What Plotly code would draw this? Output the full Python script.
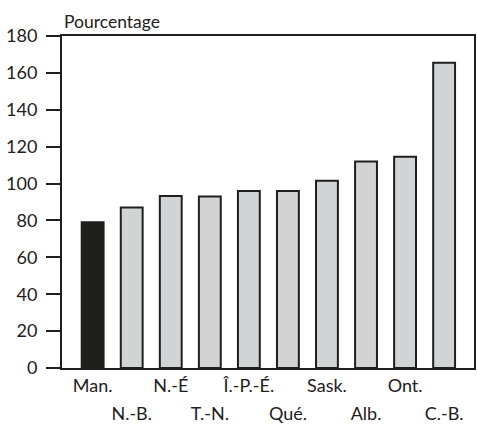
import plotly.graph_objects as go

provinces = ["Man.", "N.-B.", "N.-É", "T.-N.", "Î.-P.-É.", "Qué.", "Sask.", "Alb.", "Ont.", "C.-B."]
values = [79, 87, 93.3, 93, 96, 96, 101.5, 112, 114.5, 165.5]
y_ticks = [0, 20, 40, 60, 80, 100, 120, 140, 160, 180]

colors = ["#1f201c" if p == "Man." else "#d1d3d4" for p in provinces]
positions = list(range(len(provinces)))

fig = go.Figure()
fig.add_trace(
    go.Bar(
        x=positions,
        y=values,
        width=0.56,
        marker=dict(color=colors, line=dict(color="#1f201c", width=2)),
        hoverinfo="skip",
    )
)

# labels alternate on two rows: first row on xaxis, second row on an overlaying axis
fig.update_layout(
    width=477,
    height=427,
    margin=dict(l=62, r=1, t=36, b=59),
    plot_bgcolor="white",
    paper_bgcolor="white",
    font=dict(family="Lato", size=18, color="#1f201c"),
    showlegend=False,
    xaxis=dict(
        range=[-0.785, 9.765],
        tickmode="array",
        tickvals=positions[0::2],
        ticktext=provinces[0::2],
        showline=True,
        linewidth=2,
        linecolor="#1f201c",
        mirror=True,
        ticks="",
        showgrid=False,
        zeroline=False,
        tickangle=0,
        ticklabelstandoff=0,
    ),
    xaxis2=dict(
        matches="x",
        overlaying="x",
        side="bottom",
        tickmode="array",
        tickvals=positions[1::2],
        ticktext=provinces[1::2],
        showline=False,
        ticks="",
        showgrid=False,
        zeroline=False,
        tickangle=0,
        ticklabelstandoff=33,
    ),
    yaxis=dict(
        range=[0, 180],
        tickmode="array",
        tickvals=y_ticks,
        showline=True,
        linewidth=2,
        linecolor="#1f201c",
        mirror=True,
        ticks="outside",
        ticklen=14,
        tickwidth=2,
        tickcolor="#1f201c",
        ticklabelstandoff=5,
        showgrid=False,
        zeroline=False,
    ),
    annotations=[
        dict(
            x=0, y=1.0, xref="paper", yref="paper",
            text="Pourcentage", showarrow=False,
            xanchor="left", yanchor="bottom", yshift=2,
            font=dict(size=17.5),
        )
    ],
)
# invisible trace so xaxis2 is drawn
fig.add_trace(go.Scatter(x=[positions[0]], y=[0], xaxis="x2", mode="markers",
                         marker=dict(opacity=0), hoverinfo="skip"))

fig.write_html("out.html", config={"displayModeBar": False},
               post_script="document.body.style.margin='0';")
